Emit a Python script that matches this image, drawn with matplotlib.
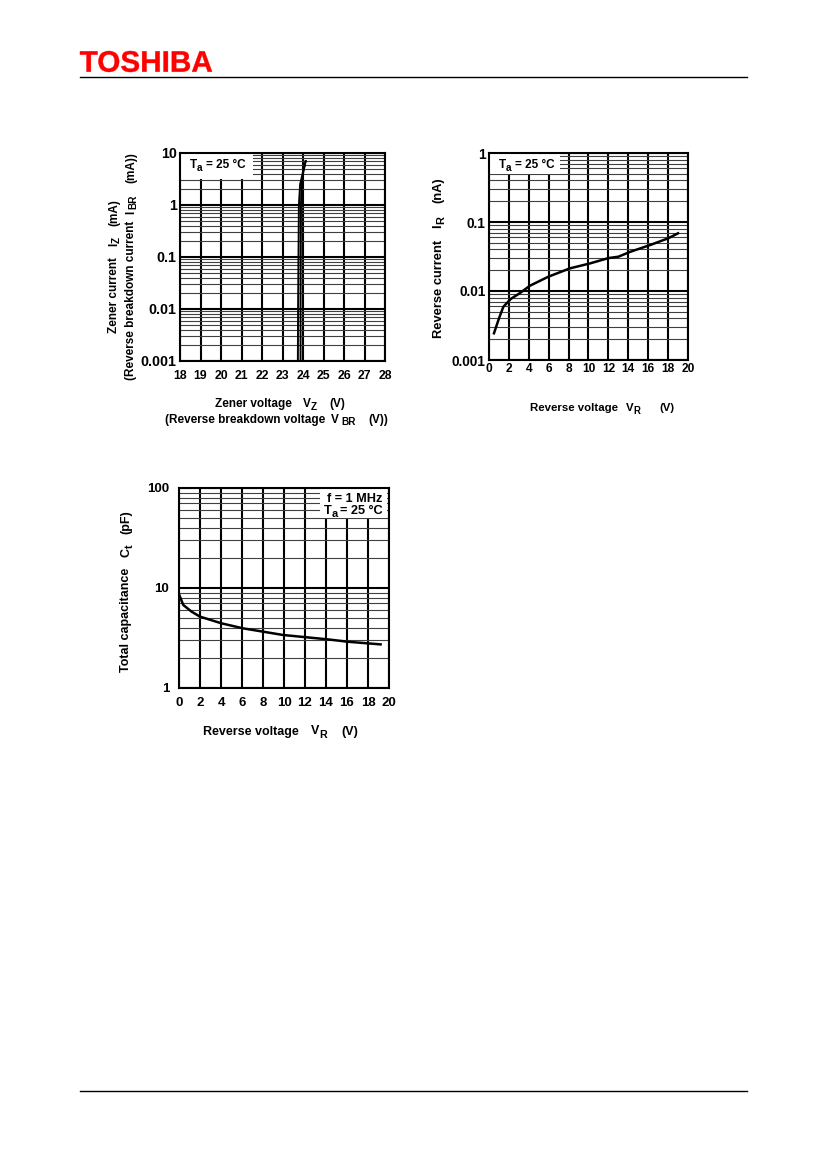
import matplotlib
matplotlib.use("Agg")
import matplotlib.pyplot as plt
from matplotlib.ticker import LogLocator, NullFormatter, FixedLocator, FixedFormatter
from matplotlib.textpath import TextPath
from matplotlib.patches import PathPatch, Rectangle
from matplotlib.font_manager import FontProperties
from matplotlib.transforms import Affine2D, IdentityTransform
import numpy as np

plt.rcParams['font.family'] = ['Liberation Sans', 'DejaVu Sans']
plt.rcParams['font.weight'] = 'bold'

# ---------------- data ----------------
# Chart 1: Iz - Vz (two traces of the curve)
vz_a = [23.75, 23.76, 23.78, 23.80, 23.86, 23.98, 24.13]
vz_b = [23.88, 23.88, 23.89, 23.90, 23.93, 24.00, 24.13]
iz = [0.001, 0.01, 0.1, 1.0, 2.5, 4.0, 7.0]
vz_ticks = [18, 19, 20, 21, 22, 23, 24, 25, 26, 27, 28]
iz_ticks = [0.001, 0.01, 0.1, 1, 10]
iz_labels = ['0.001', '0.01', '0.1', '1', '10']

# Chart 2: IR - VR
vr2 = [0.5, 1.0, 1.44, 2.2, 3.1, 4.1, 5.96, 8.14, 10.15, 12.0, 13.0, 14.2, 16.2, 18.0, 19.0]
ir2 = [0.00244, 0.0040, 0.0059, 0.0077, 0.0093, 0.0119, 0.0161, 0.0213, 0.0251, 0.0300,
       0.0314, 0.0370, 0.0464, 0.0580, 0.0686]
vr_ticks = [0, 2, 4, 6, 8, 10, 12, 14, 16, 18, 20]
ir_ticks = [0.001, 0.01, 0.1, 1]
ir_labels = ['0.001', '0.01', '0.1', '1']

# Chart 3: Ct - VR
vr3 = [0.0, 0.41, 1.2, 2.0, 4.06, 6.1, 8.0, 9.9, 12.2, 14.1, 16.1, 19.2]
ct3 = [8.65, 6.76, 5.8, 5.17, 4.43, 3.95, 3.66, 3.39, 3.21, 3.07, 2.90, 2.73]
ct_ticks = [1, 10, 100]
ct_labels = ['1', '10', '100']

W, H = 826, 1169
fig = plt.figure(figsize=(W / 100, H / 100), dpi=100)
renderer = fig.canvas.get_renderer()

def axes_px(x0, y0, x1, y1):
    return fig.add_axes([x0 / W, 1 - y1 / H, (x1 - x0) / W, (y1 - y0) / H])

def twidth(s, fs):
    t = fig.text(0, 0, s, fontsize=fs, fontweight='bold')
    w = t.get_window_extent(renderer).width
    t.remove()
    return w

def rich(x, y, parts, fs, rot=0, ha='left'):
    """parts: list of str (normal), ('s', str) subscript, or number (gap px).
    x, y: pixel position (top-left origin) of baseline start/centre/end."""
    sub_fs = fs * 0.85
    fs_px = fs * 100 / 72
    drop = 0.24 * fs_px
    items = []
    total = 0.0
    for p in parts:
        if isinstance(p, (int, float)):
            items.append((None, p, False))
            total += p
        elif isinstance(p, tuple):
            w = twidth(p[1], sub_fs)
            items.append((p[1], w, True))
            total += w
        else:
            w = twidth(p, fs)
            items.append((p, w, False))
            total += w
    off = {'left': 0.0, 'center': -total / 2, 'right': -total}[ha]
    pos = off
    for s, w, sub in items:
        if s is not None:
            if rot == 0:
                px, py = x + pos, y + (drop if sub else 0)
            else:
                px, py = x + (drop if sub else 0), y - pos
            fig.text(px / W, 1 - py / H, s, fontsize=sub_fs if sub else fs, fontweight='bold',
                     rotation=rot, rotation_mode='anchor', ha='left', va='baseline', zorder=5)
        pos += w

def style(ax, xt, yt, ylab, xlim, ylim, xfs, yfs, xpad, ypad):
    ax.set_yscale('log')
    ax.set_xlim(*xlim)
    ax.set_ylim(*ylim)
    ax.xaxis.set_major_locator(FixedLocator(xt))
    ax.xaxis.set_major_formatter(FixedFormatter([str(v) for v in xt]))
    ax.yaxis.set_major_locator(FixedLocator(yt))
    ax.yaxis.set_major_formatter(FixedFormatter(ylab))
    ax.yaxis.set_minor_locator(LogLocator(base=10, subs=np.arange(2, 10)))
    ax.yaxis.set_minor_formatter(NullFormatter())
    ax.tick_params(which='both', length=0)
    ax.tick_params(axis='x', labelsize=xfs, pad=xpad)
    ax.tick_params(axis='y', labelsize=yfs, pad=ypad)
    for lab in ax.get_xticklabels() + ax.get_yticklabels():
        lab.set_fontweight('bold')
    ax.grid(which='major', axis='both', color='black', lw=1.5)
    ax.grid(which='minor', axis='y', color='#404040', lw=0.8)
    for sp in ax.spines.values():
        sp.set_linewidth(1.5)
        sp.set_zorder(3)
    ax.set_axisbelow(True)

def white_box(ax, box_px, x0, y0, x1, y1):
    ax_x0, ax_y0, ax_x1, ax_y1 = box_px
    fx0 = (x0 - ax_x0) / (ax_x1 - ax_x0)
    fx1 = (x1 - ax_x0) / (ax_x1 - ax_x0)
    fy0 = (ax_y1 - y1) / (ax_y1 - ax_y0)
    fy1 = (ax_y1 - y0) / (ax_y1 - ax_y0)
    ax.add_patch(Rectangle((fx0, fy0), fx1 - fx0, fy1 - fy0, transform=ax.transAxes,
                           facecolor='white', edgecolor='none', zorder=1.5, clip_on=False))

# header logo (scaled text outline)
tp = TextPath((0, 0), 'TOSHIBA', size=100,
              prop=FontProperties(family='Liberation Sans', weight='bold'))
ext = tp.get_extents()
tr = (Affine2D().translate(-ext.x0, -ext.y0)
      .scale(132 / ext.width, 21 / ext.height).translate(80, H - 72))
fig.add_artist(PathPatch(tr.transform_path(tp), facecolor='#ff0000', edgecolor='#ff0000',
                         lw=0.3, transform=IdentityTransform()))
fig.add_artist(plt.Line2D([80 / W, 747 / W], [1 - 77 / H, 1 - 77 / H], color='black', lw=1))
fig.add_artist(plt.Line2D([80 / W, 747 / W], [1 - 1091 / H, 1 - 1091 / H], color='black', lw=1))

# ---------- chart 1 ----------
B1 = (180, 153, 385, 361)
ax1 = axes_px(*B1)
style(ax1, vz_ticks, iz_ticks, iz_labels, (18, 28), (0.001, 10), 8.8, 10.3, 6.5, 2.5)
ax1.plot(vz_a, iz, color='black', lw=1.4)
ax1.plot(vz_b, iz, color='black', lw=1.4)
white_box(ax1, B1, 180, 153, 253, 179)
rich(190, 168, ['T', ('s', 'a'), 3, '= 25 °C'], 8.5)
rich(117, 333, ['Zener current', 11, 'I', ('s', 'Z'), 11, '(mA)'], 8.5, rot=90)
rich(134, 380, ['(Reverse breakdown current', 7, 'I', 2, ('s', 'BR'), 11, '(mA))'], 8.5, rot=90)
rich(215, 407, ['Zener voltage', 11, 'V', ('s', 'Z'), 13, '(V)'], 8.5)
rich(165, 422.5, ['(Reverse breakdown voltage', 6, 'V', 2, ('s', 'BR'), 13, '(V))'], 8.5)

# ---------- chart 2 ----------
B2 = (489, 153, 688, 360)
ax2 = axes_px(*B2)
style(ax2, vr_ticks, ir_ticks, ir_labels, (0, 20), (0.001, 1), 8.6, 9.8, 2.5, 2.5)
ax2.plot(vr2, ir2, color='black', lw=1.8)
white_box(ax2, B2, 489, 153, 560, 174)
rich(499, 168, ['T', ('s', 'a'), 3, '= 25 °C'], 8.5)
rich(441.5, 338, ['Reverse current', 12, 'I', ('s', 'R'), 13, '(nA)'], 9.3, rot=90)
rich(530, 411, ['Reverse voltage', 8, 'V', ('s', 'R'), 19, '(V)'], 8.2)

# ---------- chart 3 ----------
B3 = (179, 488, 389, 688)
ax3 = axes_px(*B3)
style(ax3, vr_ticks, ct_ticks, ct_labels, (0, 20), (1, 100), 9.5, 9.5, 6.5, 7.0)
ax3.plot(vr3, ct3, color='black', lw=1.8)
white_box(ax3, B3, 320, 488, 387, 518)
rich(382, 501.5, ['f = 1 MHz'], 9.2, ha='right')
rich(383, 513.5, ['T', ('s', 'a'), 3, '= 25 °C'], 9.2, ha='right')
rich(129.5, 672, ['Total capacitance', 11, 'C', ('s', 't'), 10, '(pF)'], 9.0, rot=90)
rich(203, 734.5, ['Reverse voltage', 12, 'V', ('s', 'R'), 15, '(V)'], 9.0)

fig.savefig('out.png', dpi=100)
